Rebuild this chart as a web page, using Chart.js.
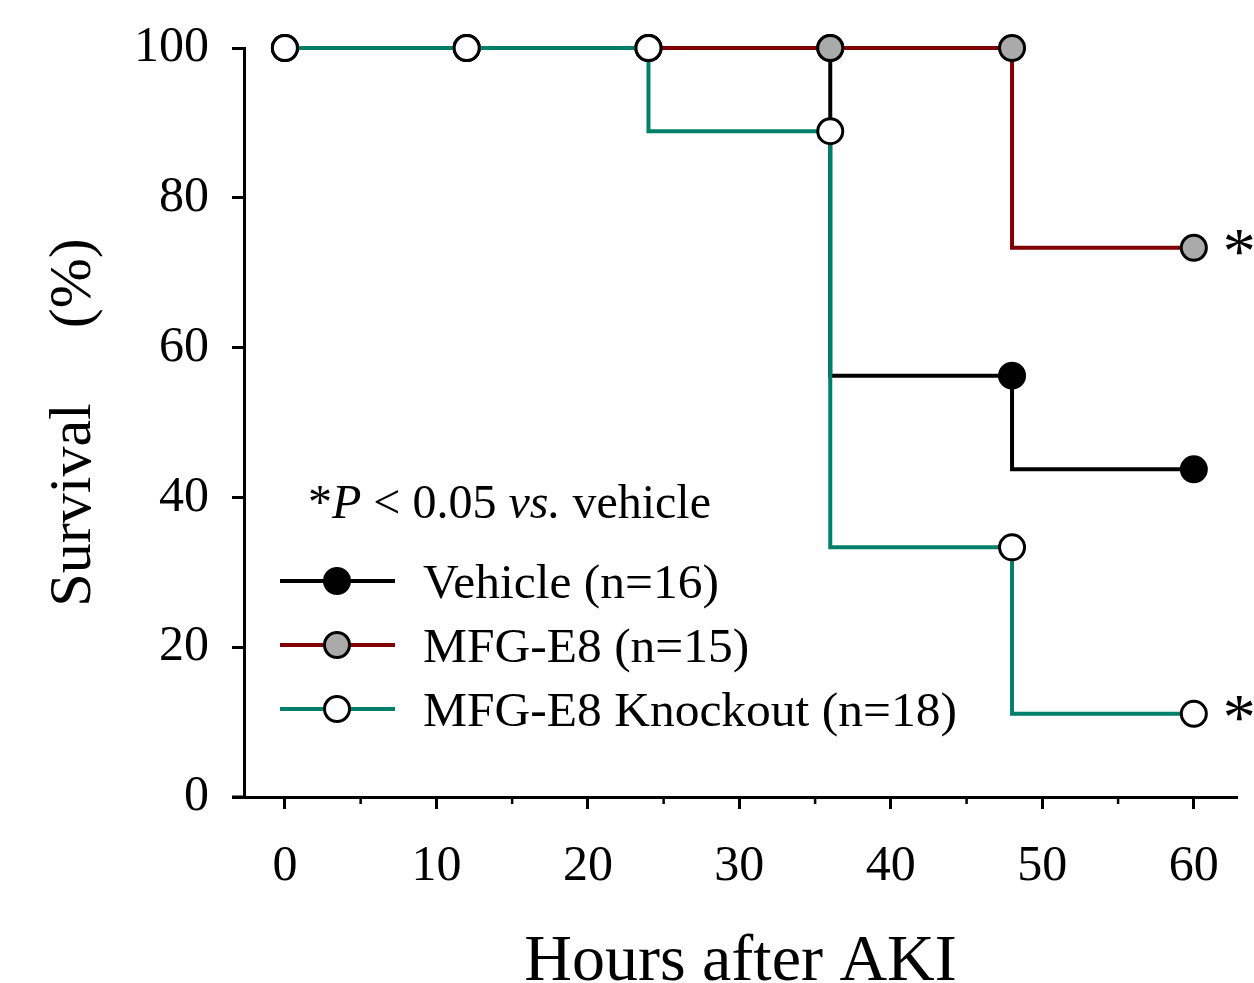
<!DOCTYPE html>
<html>
<head>
<meta charset="utf-8">
<title>Survival after AKI</title>
<script src="https://cdn.jsdelivr.net/npm/chart.js@4.4.1/dist/chart.umd.min.js"></script>
<style>
  html, body { margin: 0; padding: 0; background: #fff; }
  #wrap { width: 1254px; height: 983px; }
</style>
</head>
<body>
<div id="wrap"><canvas id="survivalChart" width="1254" height="983"></canvas></div>
<script>
// Kaplan-Meier survival, % alive at each check time
const hours = [0, 12, 24, 36, 48, 60];
const vehicleSurvival = [100, 100, 100, 100, 56.25, 43.75];
const mfgSurvival = [100, 100, 100, 100, 100, 73.33];
const knockoutSurvival = [100, 100, 100, 88.89, 33.33, 11.11];

const groupNames = ["Vehicle (n=16)", "MFG-E8 (n=15)", "MFG-E8 Knockout (n=18)"];
const significant = [false, true, true];

const xTickValues = [0, 10, 20, 30, 40, 50, 60];
const xMinorTicks = [5, 15, 25, 35, 45, 55];
const yTickValues = [0, 20, 40, 60, 80, 100];

const serif = "'Liberation Serif', 'Times New Roman', serif";
const lineColors = ["#000000", "#800000", "#00806a"];
const pointFills = ["#000000", "#aaaaaa", "#ffffff"];

function toPoints(values) {
  return hours.map((h, i) => ({ x: h, y: values[i] }));
}

function makeDataset(i, values, order) {
  return {
    label: groupNames[i],
    data: toPoints(values),
    stepped: "after",
    borderColor: lineColors[i],
    borderWidth: 4,
    fill: false,
    pointRadius: 12.5,
    pointHoverRadius: 12.5,
    pointBackgroundColor: pointFills[i],
    pointBorderColor: "#000000",
    pointBorderWidth: 3,
    clip: false,
    order: order
  };
}

// extra drawing: axis stub, minor ticks, asterisks, legend and the p-value note
const extrasPlugin = {
  id: "extras",
  afterDraw(chart) {
    const ctx = chart.ctx;
    const x = chart.scales.x;
    const y = chart.scales.y;
    const area = chart.chartArea;
    ctx.save();

    // x axis runs a bit left past the y axis
    ctx.strokeStyle = "#000";
    ctx.lineWidth = 3;
    ctx.beginPath();
    ctx.moveTo(area.left - 12, area.bottom);
    ctx.lineTo(area.left, area.bottom);
    ctx.stroke();

    // minor ticks
    ctx.lineWidth = 2.5;
    xMinorTicks.forEach(v => {
      const px = x.getPixelForValue(v);
      ctx.beginPath();
      ctx.moveTo(px, area.bottom);
      ctx.lineTo(px, area.bottom + 7);
      ctx.stroke();
    });

    // asterisks beside the last point of significant groups
    const lastValues = [vehicleSurvival, mfgSurvival, knockoutSurvival].map(a => a[a.length - 1]);
    ctx.fillStyle = "#000";
    ctx.font = "66px " + serif;
    ctx.textAlign = "left";
    ctx.textBaseline = "alphabetic";
    lastValues.forEach((v, i) => {
      if (!significant[i]) return;
      const px = x.getPixelForValue(hours[hours.length - 1]);
      const py = y.getPixelForValue(v);
      ctx.fillText("*", px + 29, py + 25);
    });

    // legend
    const rowY = [581, 645, 709];
    groupNames.forEach((name, i) => {
      ctx.strokeStyle = lineColors[i];
      ctx.lineWidth = 4;
      ctx.beginPath();
      ctx.moveTo(280, rowY[i]);
      ctx.lineTo(395, rowY[i]);
      ctx.stroke();
      ctx.beginPath();
      ctx.arc(337, rowY[i], 12.5, 0, Math.PI * 2);
      ctx.fillStyle = pointFills[i];
      ctx.fill();
      ctx.strokeStyle = "#000";
      ctx.lineWidth = 3;
      ctx.stroke();
      ctx.fillStyle = "#000";
      ctx.font = "49.5px " + serif;
      ctx.fillText(name, 423, rowY[i] + 17);
    });

    // *P < 0.05 vs. vehicle
    const parts = [
      ["*", false], ["P", true], [" < 0.05 ", false], ["vs.", true], [" vehicle", false]
    ];
    let tx = 308;
    parts.forEach(([txt, italic]) => {
      ctx.font = (italic ? "italic " : "") + "48px " + serif;
      ctx.fillText(txt, tx, 518);
      tx += ctx.measureText(txt).width;
    });

    ctx.restore();
  }
};

new Chart(document.getElementById("survivalChart"), {
  type: "line",
  data: {
    datasets: [
      makeDataset(0, vehicleSurvival, 3),
      makeDataset(1, mfgSurvival, 2),
      makeDataset(2, knockoutSurvival, 1)
    ]
  },
  options: {
    responsive: false,
    devicePixelRatio: 1,
    animation: false,
    layout: { autoPadding: false, padding: { top: 48, right: 17, bottom: 0, left: 0 } },
    plugins: {
      legend: { display: false },
      tooltip: { enabled: false }
    },
    scales: {
      x: {
        type: "linear",
        min: -2.7,
        max: 62.85,
        afterBuildTicks: s => { s.ticks = xTickValues.map(v => ({ value: v })); },
        afterFit: s => { s.height = 983 - 797; s.paddingLeft = 0; s.paddingRight = 0; },
        grid: {
          drawOnChartArea: false,
          drawTicks: true,
          tickLength: 12,
          tickWidth: 3,
          tickColor: "#000"
        },
        border: { display: true, color: "#000", width: 3 },
        ticks: {
          color: "#000",
          padding: 28,
          maxRotation: 0,
          font: { family: serif, size: 50 }
        },
        title: {
          display: true,
          text: "Hours after AKI",
          color: "#000",
          font: { family: serif, size: 66, lineHeight: 0.6 },
          padding: { top: 0, bottom: 1 }
        }
      },
      y: {
        min: 0,
        max: 100,
        afterBuildTicks: s => { s.ticks = yTickValues.map(v => ({ value: v })); },
        afterFit: s => { s.width = 244; s.paddingTop = 0; s.paddingBottom = 0; },
        grid: {
          drawOnChartArea: false,
          drawTicks: true,
          tickLength: 12,
          tickWidth: 3,
          tickColor: "#000"
        },
        border: { display: true, color: "#000", width: 3 },
        ticks: {
          color: "#000",
          padding: 23,
          font: { family: serif, size: 50 }
        },
        title: {
          display: true,
          text: "Survival     (%)",
          color: "#000",
          font: { family: serif, size: 60, lineHeight: 1 },
          padding: { top: 44, bottom: 0 }
        }
      }
    }
  },
  plugins: [extrasPlugin]
});
</script>
</body>
</html>
